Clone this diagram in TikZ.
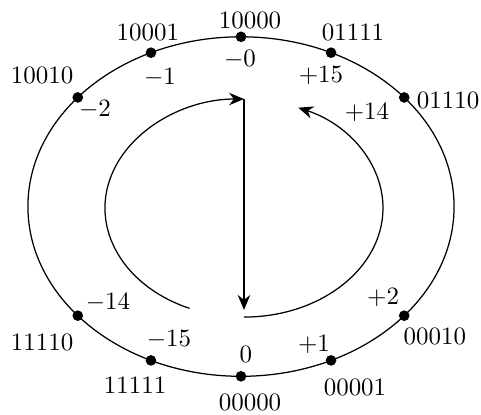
\documentclass[tikz,border=0pt]{standalone}
\usetikzlibrary{arrows.meta,calc}

\begin{document}
\begin{tikzpicture}[
  dot/.style={circle, fill=black, inner sep=0pt, minimum size=0.15cm},
  code/.style={inner sep=1pt},
  val/.style={inner sep=1pt},
  ring/.style={line width=0.5pt},
  arrow/.style={-{Stealth[length=6pt, width=5pt]}, line width=0.5pt}
]
  \useasboundingbox (-3.393,-2.922) rectangle (3.379,2.908);

  % --- Outer ring ---
  \coordinate (c) at (0,0);
  \draw[ring] (c) ellipse [x radius=3cm, y radius=2.39cm];

  % --- Code words on the ring ---
  \foreach \name/\ang in {p0/90, m1/115, m2/140, p15/65, p14/40,
                          p2/320, p1/295, z/270, m15/245, m14/220}
    \node[dot] (\name) at (\ang:3cm and 2.39cm) {};

  % --- Bit patterns ---
  \node[code] (b10000) at (0.127,2.626) {10000};
  \node[code] (b10001) at (-1.31,2.457) {10001};
  \node[code] (b10010) at (-2.80,1.85) {10010};
  \node[code] (b01111) at (1.577,2.457) {01111};
  \node[code] (b01110) at (2.915,1.50) {01110};
  \node[code] (b00010) at (2.73,-1.823) {00010};
  \node[code] (b00001) at (1.605,-2.54) {00001};
  \node[code] (b00000) at (0.127,-2.755) {00000};
  \node[code] (b11111) at (-1.49,-2.51) {11111};
  \node[code] (b11110) at (-2.80,-1.92) {11110};

  % --- Values ---
  \node[val] (vm0) at (-0.014,2.077) {$-0$};
  \node[val] (vm1) at (-1.14,1.82) {$-1$};
  \node[val] (vm2) at (-2.056,1.36) {$-2$};
  \node[val] (vp15) at (1.126,1.85) {$+15$};
  \node[val] (vp14) at (1.774,1.33) {$+14$};
  \node[val] (vp2) at (2.0,-1.274) {$+2$};
  \node[val] (vp1) at (1.028,-1.936) {$+1$};
  \node[val] (vz) at (0.07,-2.077) {$0$};
  \node[val] (vm15) at (-1.014,-1.866) {$-15$};
  \node[val] (vm14) at (-1.873,-1.345) {$-14$};

  % --- Inner arrows ---
  \coordinate (ic) at (0.042,-0.021);
  \coordinate (itop) at ($(ic)+(90:1.957cm and 1.535cm)$);
  \coordinate (ibot) at ($(ic)+(270:1.957cm and 1.535cm)$);
  \coordinate (ileft) at ($(ic)+(247:1.957cm and 1.535cm)$);
  \coordinate (iend) at ($(ibot)+(0,0.1)$);

  \draw[arrow] (ileft) arc[start angle=247, end angle=90,
    x radius=1.957cm, y radius=1.535cm];
  \draw[arrow] (itop) -- (iend);
  \draw[arrow] (ibot) arc[start angle=270, end angle=427,
    x radius=1.957cm, y radius=1.535cm];

\end{tikzpicture}
\end{document}
